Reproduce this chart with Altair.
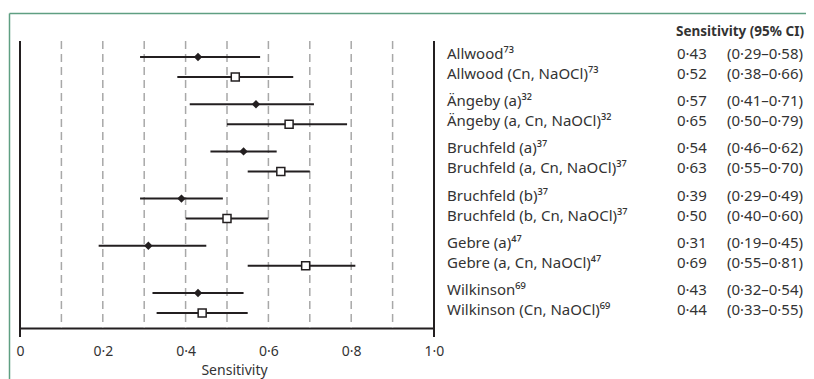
import altair as alt
import pandas as pd

# ---- data ----
labels = ["Allwood⁷³", "Allwood (Cn, NaOCl)⁷³",
          "Ängeby (a)³²", "Ängeby (a, Cn, NaOCl)³²",
          "Bruchfeld (a)³⁷", "Bruchfeld (a, Cn, NaOCl)³⁷",
          "Bruchfeld (b)³⁷", "Bruchfeld (b, Cn, NaOCl)³⁷",
          "Gebre (a)⁴⁷", "Gebre (a, Cn, NaOCl)⁴⁷",
          "Wilkinson⁶⁹", "Wilkinson (Cn, NaOCl)⁶⁹"]
estimate = [0.43, 0.52, 0.57, 0.65, 0.54, 0.63, 0.39, 0.50, 0.31, 0.69, 0.43, 0.44]
lower = [0.29, 0.38, 0.41, 0.50, 0.46, 0.55, 0.29, 0.40, 0.19, 0.55, 0.32, 0.33]
upper = [0.58, 0.66, 0.71, 0.79, 0.62, 0.70, 0.49, 0.60, 0.45, 0.81, 0.54, 0.55]
study_group = [0, 0, 1, 1, 2, 2, 3, 3, 4, 4, 5, 5]
method = ["plain", "Cn", "plain", "Cn", "plain", "Cn",
          "plain", "Cn", "plain", "Cn", "plain", "Cn"]
grid_values = [0.1, 0.2, 0.3, 0.4, 0.5, 0.6, 0.7, 0.8, 0.9]
edge_values = [0.0, 1.0]
tick_values = [0.0, 0.2, 0.4, 0.6, 0.8, 1.0]
header_text = ["Sensitivity (95% CI)"]


def dot(v):
    return f"{v:.2f}".replace(".", "·")


df = pd.DataFrame({
    "label": labels, "est": estimate, "lo": lower, "hi": upper,
    "grp": study_group, "method": method,
})
df["sub"] = [0 if m == "plain" else 1 for m in df["method"]]
df["pos"] = df["grp"] * 2.36 + df["sub"]
df["est_txt"] = [dot(v) for v in df["est"]]
df["ci_txt"] = [f"({dot(a)}–{dot(b)})" for a, b in zip(df["lo"], df["hi"])]

W, H = 414, 287
INK = "#231f20"
TXT = "#333333"
FONT = "Noto Sans"

xscale = alt.Scale(domain=[0, 1], nice=False, zero=False)
yenc = alt.Y("pos:Q", scale=alt.Scale(domain=[-0.8, 13.55], reverse=True), axis=None)

xaxis = alt.Axis(
    values=tick_values,
    labelExpr="datum.value == 0 ? '0' : replace(format(datum.value, '.1f'), '.', '·')",
    title="Sensitivity", grid=False, ticks=False,
    domainColor=INK, domainWidth=2,
    labelFont=FONT, labelFontSize=14, labelColor=TXT, labelPadding=16,
    labelFlush=False,
    titleFont=FONT, titleFontSize=14, titleFontWeight="normal", titleColor=TXT,
    titlePadding=5, titleX=214, titleAlign="center",
)

grid = alt.Chart(pd.DataFrame({"g": grid_values})).mark_rule(
    color="#a8a8a8", strokeWidth=1.5, strokeDash=[8, 5]
).encode(x=alt.X("g:Q", scale=xscale, axis=xaxis))

edges = alt.Chart(pd.DataFrame({"e": edge_values})).mark_rule(
    color=INK, strokeWidth=2
).encode(x=alt.X("e:Q", scale=xscale, axis=xaxis), y=alt.value(0), y2=alt.value(H + 9))

base = alt.Chart(df)

bars = base.mark_rule(color=INK, strokeWidth=2).encode(
    x=alt.X("lo:Q", scale=xscale, axis=xaxis), x2="hi:Q", y=yenc
)

diamonds = base.transform_filter("datum.method == 'plain'").mark_point(
    shape="diamond", filled=True, size=70, color=INK, opacity=1
).encode(x=alt.X("est:Q", scale=xscale, axis=xaxis), y=yenc)

squares = base.transform_filter("datum.method == 'Cn'").mark_point(
    shape="square", filled=True, size=64, fill="white", stroke=INK,
    strokeWidth=1.5, opacity=1
).encode(x=alt.X("est:Q", scale=xscale, axis=xaxis), y=yenc)

txt_style = dict(baseline="alphabetic", font=FONT, fontSize=15, color=TXT, dy=2)
lab = base.mark_text(align="left", **txt_style).encode(
    x=alt.value(427), y=yenc, text="label:N")
val = base.mark_text(align="left", **txt_style).encode(
    x=alt.value(657), y=yenc, text="est_txt:N")
ci = base.mark_text(align="right", **txt_style).encode(
    x=alt.value(783), y=yenc, text="ci_txt:N")

header = alt.Chart(pd.DataFrame({"h": header_text})).mark_text(
    align="right", baseline="alphabetic", font=FONT, fontSize=13.5,
    fontWeight="bold", color=TXT
).encode(x=alt.value(784), y=alt.value(-5), text="h:N")

frame_top = alt.Chart(pd.DataFrame({"f": [0]})).mark_rule(
    color="#5f9f82", strokeWidth=1.5
).encode(x=alt.value(-10.5), x2=alt.value(W + 400), y=alt.value(-27.5))
frame_left = alt.Chart(pd.DataFrame({"f": [0]})).mark_rule(
    color="#5f9f82", strokeWidth=1.5
).encode(x=alt.value(-10.5), y=alt.value(-27.5), y2=alt.value(H + 70))

chart = alt.layer(
    frame_top, frame_left, grid, edges, bars, diamonds, squares, lab, val, ci, header
).properties(
    width=W, height=H,
    autosize=alt.AutoSizeParams(type="none"),
    padding={"left": 12, "top": 33, "right": 372, "bottom": 51},
).configure_view(stroke=None)

chart.save("out.html", embed_options={"renderer": "svg", "actions": False})
